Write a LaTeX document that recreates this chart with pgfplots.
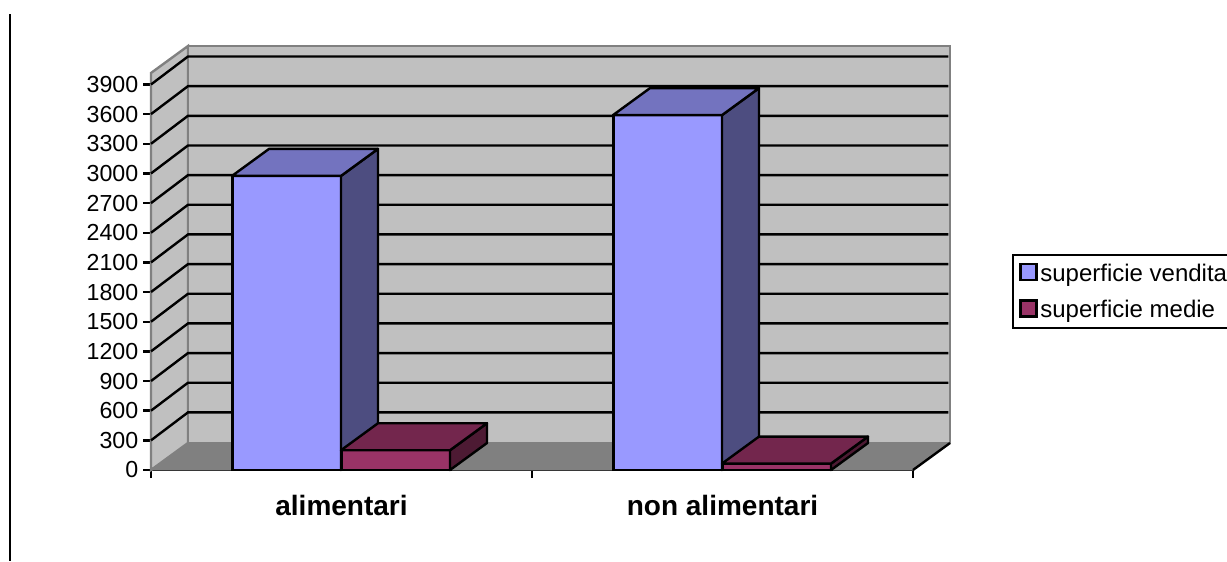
\documentclass[border=0pt]{standalone}
\usepackage{fontspec}
\setmainfont{Liberation Sans}
\usepackage{pgfplots}
\pgfplotsset{compat=1.18}
\definecolor{wall}{HTML}{C0C0C0}
\definecolor{floorc}{HTML}{808080}
\definecolor{bluef}{HTML}{9999FF}
\definecolor{bluet}{HTML}{7373BF}
\definecolor{blues}{HTML}{4D4D80}
\definecolor{redf}{HTML}{993366}
\definecolor{redt}{HTML}{73264D}
\definecolor{reds}{HTML}{4D1A33}
\begin{document}
\begin{tikzpicture}[x=1pt,y=1pt]
\useasboundingbox (-113.25pt,-68.25pt) rectangle (807pt,352.5pt);
\begin{axis}[
  scale only axis, width=571.5pt, height=297.75pt,
  clip=false,
  unbounded coords=jump,
  xmin=0, xmax=2, ymin=0, ymax=4016,
  axis x line*=bottom, axis y line*=left,
  axis line style={black,line width=1.8pt,-},
  xtick={0,1,2}, xticklabels={},
  extra x ticks={0.5,1.5},
  extra x tick labels={\textbf{alimentari},\textbf{non alimentari}},
  extra x tick style={major tick length=0pt, tick style={draw=none},
     xticklabel style={font=\fontsize{21}{24}\selectfont, yshift=-15pt}},
  ytick={0,300,600,900,1200,1500,1800,2100,2400,2700,3000,3300,3600,3900},
  yticklabel style={font=\fontsize{17.4}{20}\selectfont},
  /pgf/number format/assume math mode=true,
  /pgf/number format/1000 sep={},
  major tick length=6pt,
  tick style={black,line width=1.8pt},
  tick align=outside,
  legend cell align=left,
  legend style={at={(1.13,0.544)},anchor=north west,draw=black,line width=1.8pt,
    font=\fontsize{18}{21}\selectfont, inner xsep=4.5pt, inner ysep=4.5pt,
    row sep=8.5pt, /tikz/every even column/.append style={column sep=1pt}},
  every axis plot/.append style={forget plot},
]
% left vertical rule of the page
\addplot[black,line width=1.8pt] coordinates {(-0.370,-920) (-0.370,4613)};
% walls and floor
\addplot[fill=wall,draw=floorc,line width=1.8pt] coordinates {(0,0) (0.0971,273) (0.0971,4289) (0,4016)} --cycle;
\addplot[fill=wall,draw=floorc,line width=1.8pt] coordinates {(0.0971,273) (2.0971,273) (2.0971,4289) (0.0971,4289)} --cycle;
\addplot[fill=floorc,draw=floorc,line width=0.5pt] coordinates {(0,0) (2,0) (2.0971,273) (0.0971,273)} --cycle;
\addplot[black,line width=1.8pt] coordinates {(2,0) (2.0971,273)};
% gridlines
\addplot[black,line width=1.8pt] table {
0 300
0.0971 583
2.0925 583
nan nan
0 600
0.0971 883
2.0925 883
nan nan
0 900
0.0971 1183
2.0925 1183
nan nan
0 1200
0.0971 1483
2.0925 1483
nan nan
0 1500
0.0971 1783
2.0925 1783
nan nan
0 1800
0.0971 2083
2.0925 2083
nan nan
0 2100
0.0971 2383
2.0925 2383
nan nan
0 2400
0.0971 2683
2.0925 2683
nan nan
0 2700
0.0971 2983
2.0925 2983
nan nan
0 3000
0.0971 3283
2.0925 3283
nan nan
0 3300
0.0971 3583
2.0925 3583
nan nan
0 3600
0.0971 3883
2.0925 3883
nan nan
0 3900
0.0971 4183
2.0925 4183
};
% superficie vendita
\addplot[ybar,bar width=0.2861,bar shift=-0.14305,fill=bluef,draw=black,line width=1.8pt] coordinates {(0.5,2975) (1.5,3590)};
\addplot[fill=blues,draw=black,line width=1.8pt,line join=round] coordinates {(0.4987,0) (0.5958,273) (0.5958,3248) (0.4987,2975)} --cycle;
\addplot[fill=bluet,draw=black,line width=1.8pt,line join=round] coordinates {(0.2126,2975) (0.3097,3248) (0.5958,3248) (0.4987,2975)} --cycle;
\addplot[fill=blues,draw=black,line width=1.8pt,line join=round] coordinates {(1.4987,0) (1.5958,273) (1.5958,3863) (1.4987,3590)} --cycle;
\addplot[fill=bluet,draw=black,line width=1.8pt,line join=round] coordinates {(1.2126,3590) (1.3097,3863) (1.5958,3863) (1.4987,3590)} --cycle;
% superficie medie
\addplot[ybar,bar width=0.2861,bar shift=0.14305,fill=redf,draw=black,line width=1.8pt] coordinates {(0.5,200) (1.5,65)};
\addplot[fill=reds,draw=black,line width=1.8pt,line join=round] coordinates {(0.7848,0) (0.8819,273) (0.8819,473) (0.7848,200)} --cycle;
\addplot[fill=redt,draw=black,line width=1.8pt,line join=round] coordinates {(0.4987,200) (0.5958,473) (0.8819,473) (0.7848,200)} --cycle;
\addplot[fill=reds,draw=black,line width=1.8pt,line join=round] coordinates {(1.7848,0) (1.8819,273) (1.8819,338) (1.7848,65)} --cycle;
\addplot[fill=redt,draw=black,line width=1.8pt,line join=round] coordinates {(1.4987,65) (1.5958,338) (1.8819,338) (1.7848,65)} --cycle;
% legend
\addlegendimage{legend image code/.code={\draw[fill=bluef,draw=black,line width=1.8pt] (0pt,-5pt) rectangle (12pt,7pt);}}
\addlegendentry{superficie vendita}
\addlegendimage{legend image code/.code={\draw[fill=redf,draw=black,line width=1.8pt] (0pt,-5pt) rectangle (12pt,7pt);}}
\addlegendentry{superficie medie}
\end{axis}
\end{tikzpicture}
\end{document}
